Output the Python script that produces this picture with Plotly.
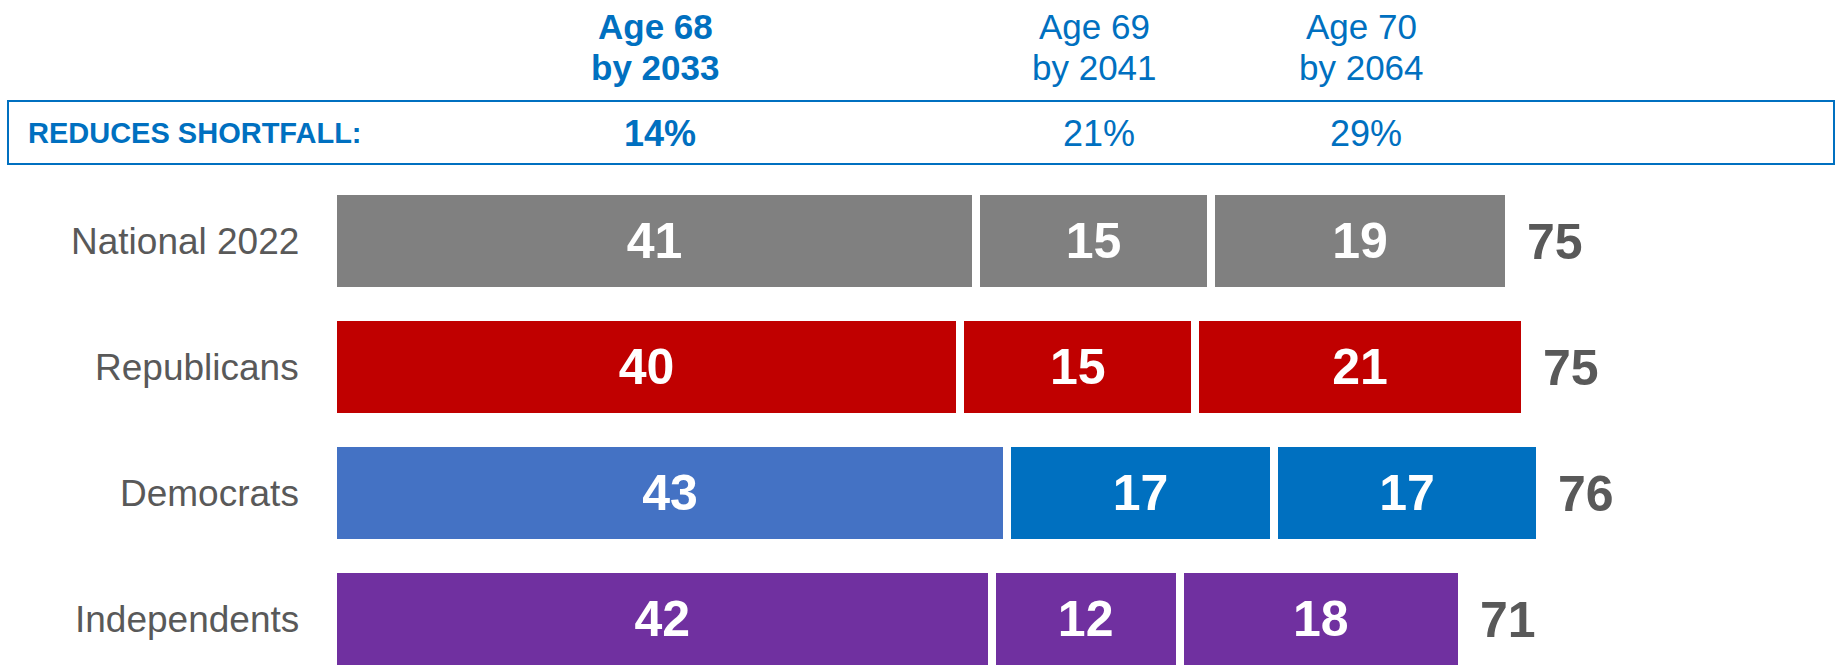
import plotly.graph_objects as go

categories = ["National 2022", "Republicans", "Democrats", "Independents"]
seg_age68 = [41, 40, 43, 42]
seg_age69 = [15, 15, 17, 12]
seg_age70 = [19, 21, 17, 18]
totals = [75, 75, 76, 71]

header_top = ["Age 68", "Age 69", "Age 70"]
header_bottom = ["by 2033", "by 2041", "by 2064"]
header_bold = [True, False, False]
shortfall_label = "REDUCES SHORTFALL:"
shortfall_pct = ["14%", "21%", "29%"]

row_colors = {
    "National 2022": ["#808080", "#808080", "#808080"],
    "Republicans": ["#C00000", "#C00000", "#C00000"],
    "Democrats": ["#4472C4", "#0070C0", "#0070C0"],
    "Independents": ["#7030A0", "#7030A0", "#7030A0"],
}

FONT = "Liberation Sans, Arial, sans-serif"
BLUE = "#0070C0"
GREY_TXT = "#595959"

W, H = 1841, 668
ML, MR, MT, MB = 333, 0, 178, 0
plot_w = W - ML - MR
plot_h = H - MT - MB
px_per_unit = 15.68
x_max = plot_w / px_per_unit
row_px = 126.0
y_span = plot_h / row_px

fig = go.Figure()
segments = [seg_age68, seg_age69, seg_age70]
for si, seg in enumerate(segments):
    fig.add_trace(go.Bar(
        y=categories,
        x=seg,
        orientation="h",
        width=0.794,
        marker=dict(color=[row_colors[c][si] for c in categories],
                    line=dict(color="white", width=8)),
        text=[f"<b>{v}</b>" for v in seg],
        textposition="inside",
        insidetextanchor="middle",
        textangle=0,
        constraintext="none",
        textfont=dict(family=FONT, size=50, color="white"),
        hoverinfo="skip",
        showlegend=False,
    ))

annotations = []
# category labels
for c in categories:
    annotations.append(dict(x=0, y=c, xref="x", yref="y", text=c, showarrow=False,
                            xanchor="right", yanchor="middle", xshift=-32,
                            font=dict(family=FONT, size=37, color=GREY_TXT)))
# totals
for c, s1, s2, s3, t in zip(categories, seg_age68, seg_age69, seg_age70, totals):
    annotations.append(dict(x=s1 + s2 + s3, y=c, xref="x", yref="y", text=f"<b>{t}</b>",
                            showarrow=False, xanchor="left", yanchor="middle", xshift=16,
                            yshift=-1,
                            font=dict(family=FONT, size=50, color=GREY_TXT)))

def paper_y(px):
    return (H - MB - px) / plot_h

def paper_x(px):
    return (px - ML) / plot_w

# header positions: midpoints of national segments
nat = [seg_age68[0], seg_age69[0], seg_age70[0]]
mids = []
cum = 0
for v in nat:
    mids.append(cum + v / 2)
    cum += v

for m, t1, t2, b, p in zip(mids, header_top, header_bottom, header_bold, shortfall_pct):
    wrap = (lambda s: f"<b>{s}</b>") if b else (lambda s: s)
    annotations.append(dict(x=m, y=paper_y(26), xref="x", yref="paper", text=wrap(t1), showarrow=False,
                            xanchor="center", yanchor="middle", xshift=1,
                            font=dict(family=FONT, size=35, color=BLUE)))
    annotations.append(dict(x=m, y=paper_y(68), xref="x", yref="paper", text=wrap(t2), showarrow=False,
                            xanchor="center", yanchor="middle", xshift=1,
                            font=dict(family=FONT, size=35, color=BLUE)))
    annotations.append(dict(x=m, y=paper_y(133), xref="x", yref="paper", text=wrap(p), showarrow=False,
                            xanchor="center", yanchor="middle", xshift=6,
                            font=dict(family=FONT, size=36, color=BLUE)))

annotations.append(dict(x=paper_x(26), y=paper_y(133), xref="paper", yref="paper",
                        text=f"<b>{shortfall_label}</b>", showarrow=False,
                        xanchor="left", yanchor="middle",
                        font=dict(family=FONT, size=29, color=BLUE)))

shapes = [dict(type="rect", xref="paper", yref="paper",
               x0=paper_x(8), x1=paper_x(1834), y0=paper_y(164), y1=paper_y(101),
               line=dict(color=BLUE, width=2), fillcolor="rgba(0,0,0,0)", layer="above")]

fig.update_layout(
    barmode="stack",
    width=W, height=H,
    margin=dict(l=ML, r=MR, t=MT, b=MB, pad=0),
    paper_bgcolor="white", plot_bgcolor="white",
    xaxis=dict(range=[0, x_max], visible=False, fixedrange=True),
    yaxis=dict(categoryorder="array", categoryarray=categories,
               range=[-0.5 + y_span, -0.5], visible=False, fixedrange=True),
    annotations=annotations,
    shapes=shapes,
    uniformtext=dict(mode=False),
)

fig.write_html("out.html", config={"displayModeBar": False},
               post_script="document.body.style.margin='0';document.body.style.padding='0';")
